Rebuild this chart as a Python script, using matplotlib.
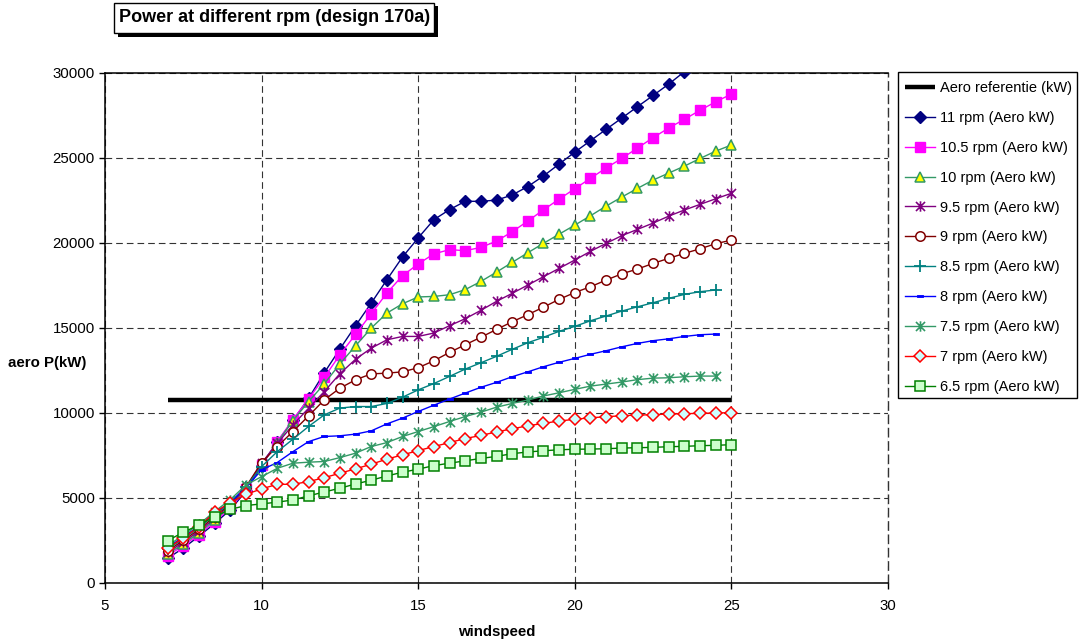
import numpy as np
import matplotlib
matplotlib.use("Agg")
import matplotlib.pyplot as plt
from matplotlib.path import Path
from matplotlib.patches import Rectangle

plt.rcParams["font.family"] = ["Liberation Sans", "DejaVu Sans"]

# ---- data -------------------------------------------------------------
windspeed = [7 + 0.5 * i for i in range(37)]  # 7 .. 25 m/s

aero_ref = [10780] * 37

rpm_11 = [1450, 2050, 2750, 3500, 4300, 5400, 6900, 8300, 9550, 10850, 12350, 13750,
          15120, 16450, 17820, 19160, 20280, 21350, 21940, 22430, 22430, 22500, 22800,
          23300, 23920, 24620, 25320, 25990, 26660, 27320, 27990, 28650, 29320, 30050,
          30750, 31400, 32050]
rpm_10_5 = [1600, 2200, 2850, 3600, 4400, 5500, 6950, 8310, 9600, 10820, 12080, 13410,
            14610, 15820, 17040, 18060, 18750, 19340, 19590, 19530, 19720, 20090, 20640,
            21270, 21930, 22560, 23170, 23780, 24390, 24950, 25560, 26170, 26740, 27250,
            27780, 28280, 28730]
rpm_10 = [1700, 2300, 2950, 3700, 4500, 5550, 7000, 8250, 9540, 10660, 11700, 12880,
          13940, 14980, 15860, 16410, 16810, 16840, 16940, 17240, 17720, 18270, 18840,
          19410, 19960, 20500, 21030, 21580, 22150, 22680, 23190, 23680, 24090, 24500,
          24950, 25380, 25740]
rpm_9_5 = [1800, 2400, 3050, 3800, 4600, 5600, 7050, 8200, 9290, 10270, 11250, 12300,
           13150, 13800, 14290, 14490, 14490, 14690, 15120, 15530, 16020, 16550, 17020,
           17510, 18000, 18490, 18980, 19490, 19960, 20410, 20780, 21150, 21560, 21920,
           22250, 22580, 22900]
rpm_9 = [1900, 2500, 3150, 3900, 4650, 5650, 7080, 8020, 8900, 9820, 10760, 11450,
         11940, 12290, 12330, 12410, 12650, 13060, 13550, 14000, 14440, 14900, 15350,
         15770, 16210, 16670, 17070, 17410, 17800, 18170, 18450, 18780, 19080, 19370,
         19640, 19940, 20150]
rpm_8_5 = [2000, 2600, 3250, 4000, 4700, 5650, 6840, 7720, 8450, 9200, 9880, 10280,
           10370, 10370, 10550, 10920, 11350, 11720, 12140, 12570, 12940, 13320, 13730,
           14120, 14440, 14790, 15080, 15410, 15690, 15980, 16230, 16470, 16730, 16960,
           17120, 17220, np.nan]
rpm_8 = [2100, 2700, 3350, 4100, 4750, 5600, 6650, 7080, 7720, 8310, 8610, 8650,
         8750, 8940, 9350, 9690, 10080, 10450, 10810, 11160, 11500, 11790, 12120,
         12410, 12710, 12970, 13200, 13440, 13650, 13880, 14080, 14240, 14350, 14490,
         14590, 14630, np.nan]
rpm_7_5 = [2200, 2800, 3450, 4200, 4900, 5760, 6250, 6740, 7040, 7100, 7140, 7370,
           7630, 8020, 8250, 8610, 8900, 9190, 9490, 9780, 10040, 10330, 10550, 10750,
           10990, 11180, 11380, 11570, 11690, 11810, 11950, 12040, 12060, 12120, 12160,
           12160, np.nan]
rpm_7 = [2050, 2650, 3300, 4150, 4720, 5210, 5530, 5800, 5800, 5960, 6190, 6450,
         6710, 6980, 7280, 7530, 7780, 8020, 8250, 8490, 8670, 8880, 9060, 9240, 9380,
         9520, 9620, 9710, 9770, 9830, 9870, 9890, 9930, 9950, 9970, 9990, 10010]
rpm_6_5 = [2490, 2980, 3410, 3900, 4330, 4550, 4650, 4750, 4880, 5120, 5350, 5570,
           5820, 6040, 6290, 6510, 6690, 6900, 7040, 7180, 7320, 7440, 7600, 7700, 7770,
           7830, 7860, 7870, 7890, 7930, 7950, 7970, 8010, 8030, 8070, 8090, 8130]

x_ticks = [5, 10, 15, 20, 25, 30]
y_ticks = [0, 5000, 10000, 15000, 20000, 25000, 30000]

# ---- marker shapes ----------------------------------------------------
star = Path([(-1, -1), (1, 1), (-1, 1), (1, -1), (0, -1.15), (0, 1.15)],
            [Path.MOVETO, Path.LINETO] * 3)
dash = Path([(-1, -0.45), (1, -0.45), (1, 0.45), (-1, 0.45), (-1, -0.45)],
            [Path.MOVETO, Path.LINETO, Path.LINETO, Path.LINETO, Path.CLOSEPOLY])

series = [
    ("11 rpm (Aero kW)", rpm_11, dict(color="#000080", marker="D", ms=6,
                                      mfc="#000080", mec="#000080")),
    ("10.5 rpm (Aero kW)", rpm_10_5, dict(color="#FF00FF", marker="s", ms=6.8,
                                          mfc="#FF00FF", mec="#FF00FF")),
    ("10 rpm (Aero kW)", rpm_10, dict(color="#339966", marker="^", ms=7,
                                      mfc="#FFFF00", mec="#339966", mew=1.1)),
    ("9.5 rpm (Aero kW)", rpm_9_5, dict(color="#800080", marker=star, ms=7.5,
                                        mfc="none", mec="#800080", mew=1.2)),
    ("9 rpm (Aero kW)", rpm_9, dict(color="#800000", marker="o", ms=6.8,
                                    mfc="white", mec="#800000", mew=1.1)),
    ("8.5 rpm (Aero kW)", rpm_8_5, dict(color="#008080", marker="+", ms=8,
                                        mec="#008080", mew=1.3)),
    ("8 rpm (Aero kW)", rpm_8, dict(color="#0000FF", marker=dash, ms=4,
                                    mfc="#0000FF", mec="#0000FF", mew=0.6)),
    ("7.5 rpm (Aero kW)", rpm_7_5, dict(color="#339966", marker=star, ms=7.5,
                                        mfc="none", mec="#339966", mew=1.2)),
    ("7 rpm (Aero kW)", rpm_7, dict(color="#FF0000", marker="D", ms=5.8,
                                    mfc="#CCFFFF", mec="#FF0000", mew=1.1)),
    ("6.5 rpm (Aero kW)", rpm_6_5, dict(color="#008000", marker="s", ms=6.8,
                                        mfc="#CCFFCC", mec="#008000", mew=1.1)),
]

# ---- figure -----------------------------------------------------------
W, H = 1082, 644
fig = plt.figure(figsize=(W / 100, H / 100), dpi=100)
fig.patch.set_facecolor("white")


def fx(px):
    return px / W


def fy(py):
    return 1 - py / H


ax = fig.add_axes([fx(105), fy(583), fx(888) - fx(105), fy(72.5) - fy(583)])

ax.plot(windspeed, aero_ref, color="black", lw=3.2, solid_capstyle="butt",
        label="Aero referentie (kW)", zorder=3)
for label, values, style in series:
    ax.plot(windspeed, values, lw=1.0, label=label, zorder=3, **style)

ax.set_xlim(5, 30)
ax.set_ylim(0, 30000)
ax.set_xticks(x_ticks)
ax.set_yticks(y_ticks)
ax.tick_params(direction="out", length=4.2, width=1, labelsize=10.8, pad=3,
               colors="black")
ax.tick_params(axis="x", pad=7)
ax.grid(True, color="#333333", linestyle=(0, (6, 3.6)), linewidth=0.8)
ax.set_axisbelow(True)

for side in ("left", "bottom", "top"):
    ax.spines[side].set_linewidth(1.1)
    ax.spines[side].set_color("black")
ax.spines["right"].set_linestyle((0, (6, 3.6)))
ax.spines["right"].set_color("#333333")
ax.spines["right"].set_linewidth(1.0)

ax.set_xlabel("windspeed", fontsize=10.8, fontweight="bold", labelpad=9)
fig.text(fx(8), fy(363), "aero P(kW)", fontsize=10.8, fontweight="bold",
         ha="left", va="center")

# legend: entries placed without a frame, box drawn separately
leg = ax.legend(loc="upper left", bbox_to_anchor=(fx(905), fy(81)),
                bbox_transform=fig.transFigure, borderaxespad=0, borderpad=0,
                fontsize=10.5, frameon=False,
                handlelength=2.05, handletextpad=0.34, labelspacing=1.09)
fig.add_artist(Rectangle((fx(898), fy(398)), fx(1077) - fx(898), fy(72) - fy(398),
                         transform=fig.transFigure, facecolor="none",
                         edgecolor="black", linewidth=1.0))

# title box with drop shadow
fig.add_artist(Rectangle((fx(118), fy(37)), fx(438) - fx(118), fy(6) - fy(37),
                         transform=fig.transFigure, facecolor="black",
                         edgecolor="none"))
fig.add_artist(Rectangle((fx(114), fy(33)), fx(434) - fx(114), fy(3) - fy(33),
                         transform=fig.transFigure, facecolor="white",
                         edgecolor="black", linewidth=1.0))
fig.text(fx(119), fy(18), "Power at different rpm (design 170a)", fontsize=13,
         fontweight="bold", ha="left", va="center")

fig.savefig("out.png", dpi=100, facecolor="white")
